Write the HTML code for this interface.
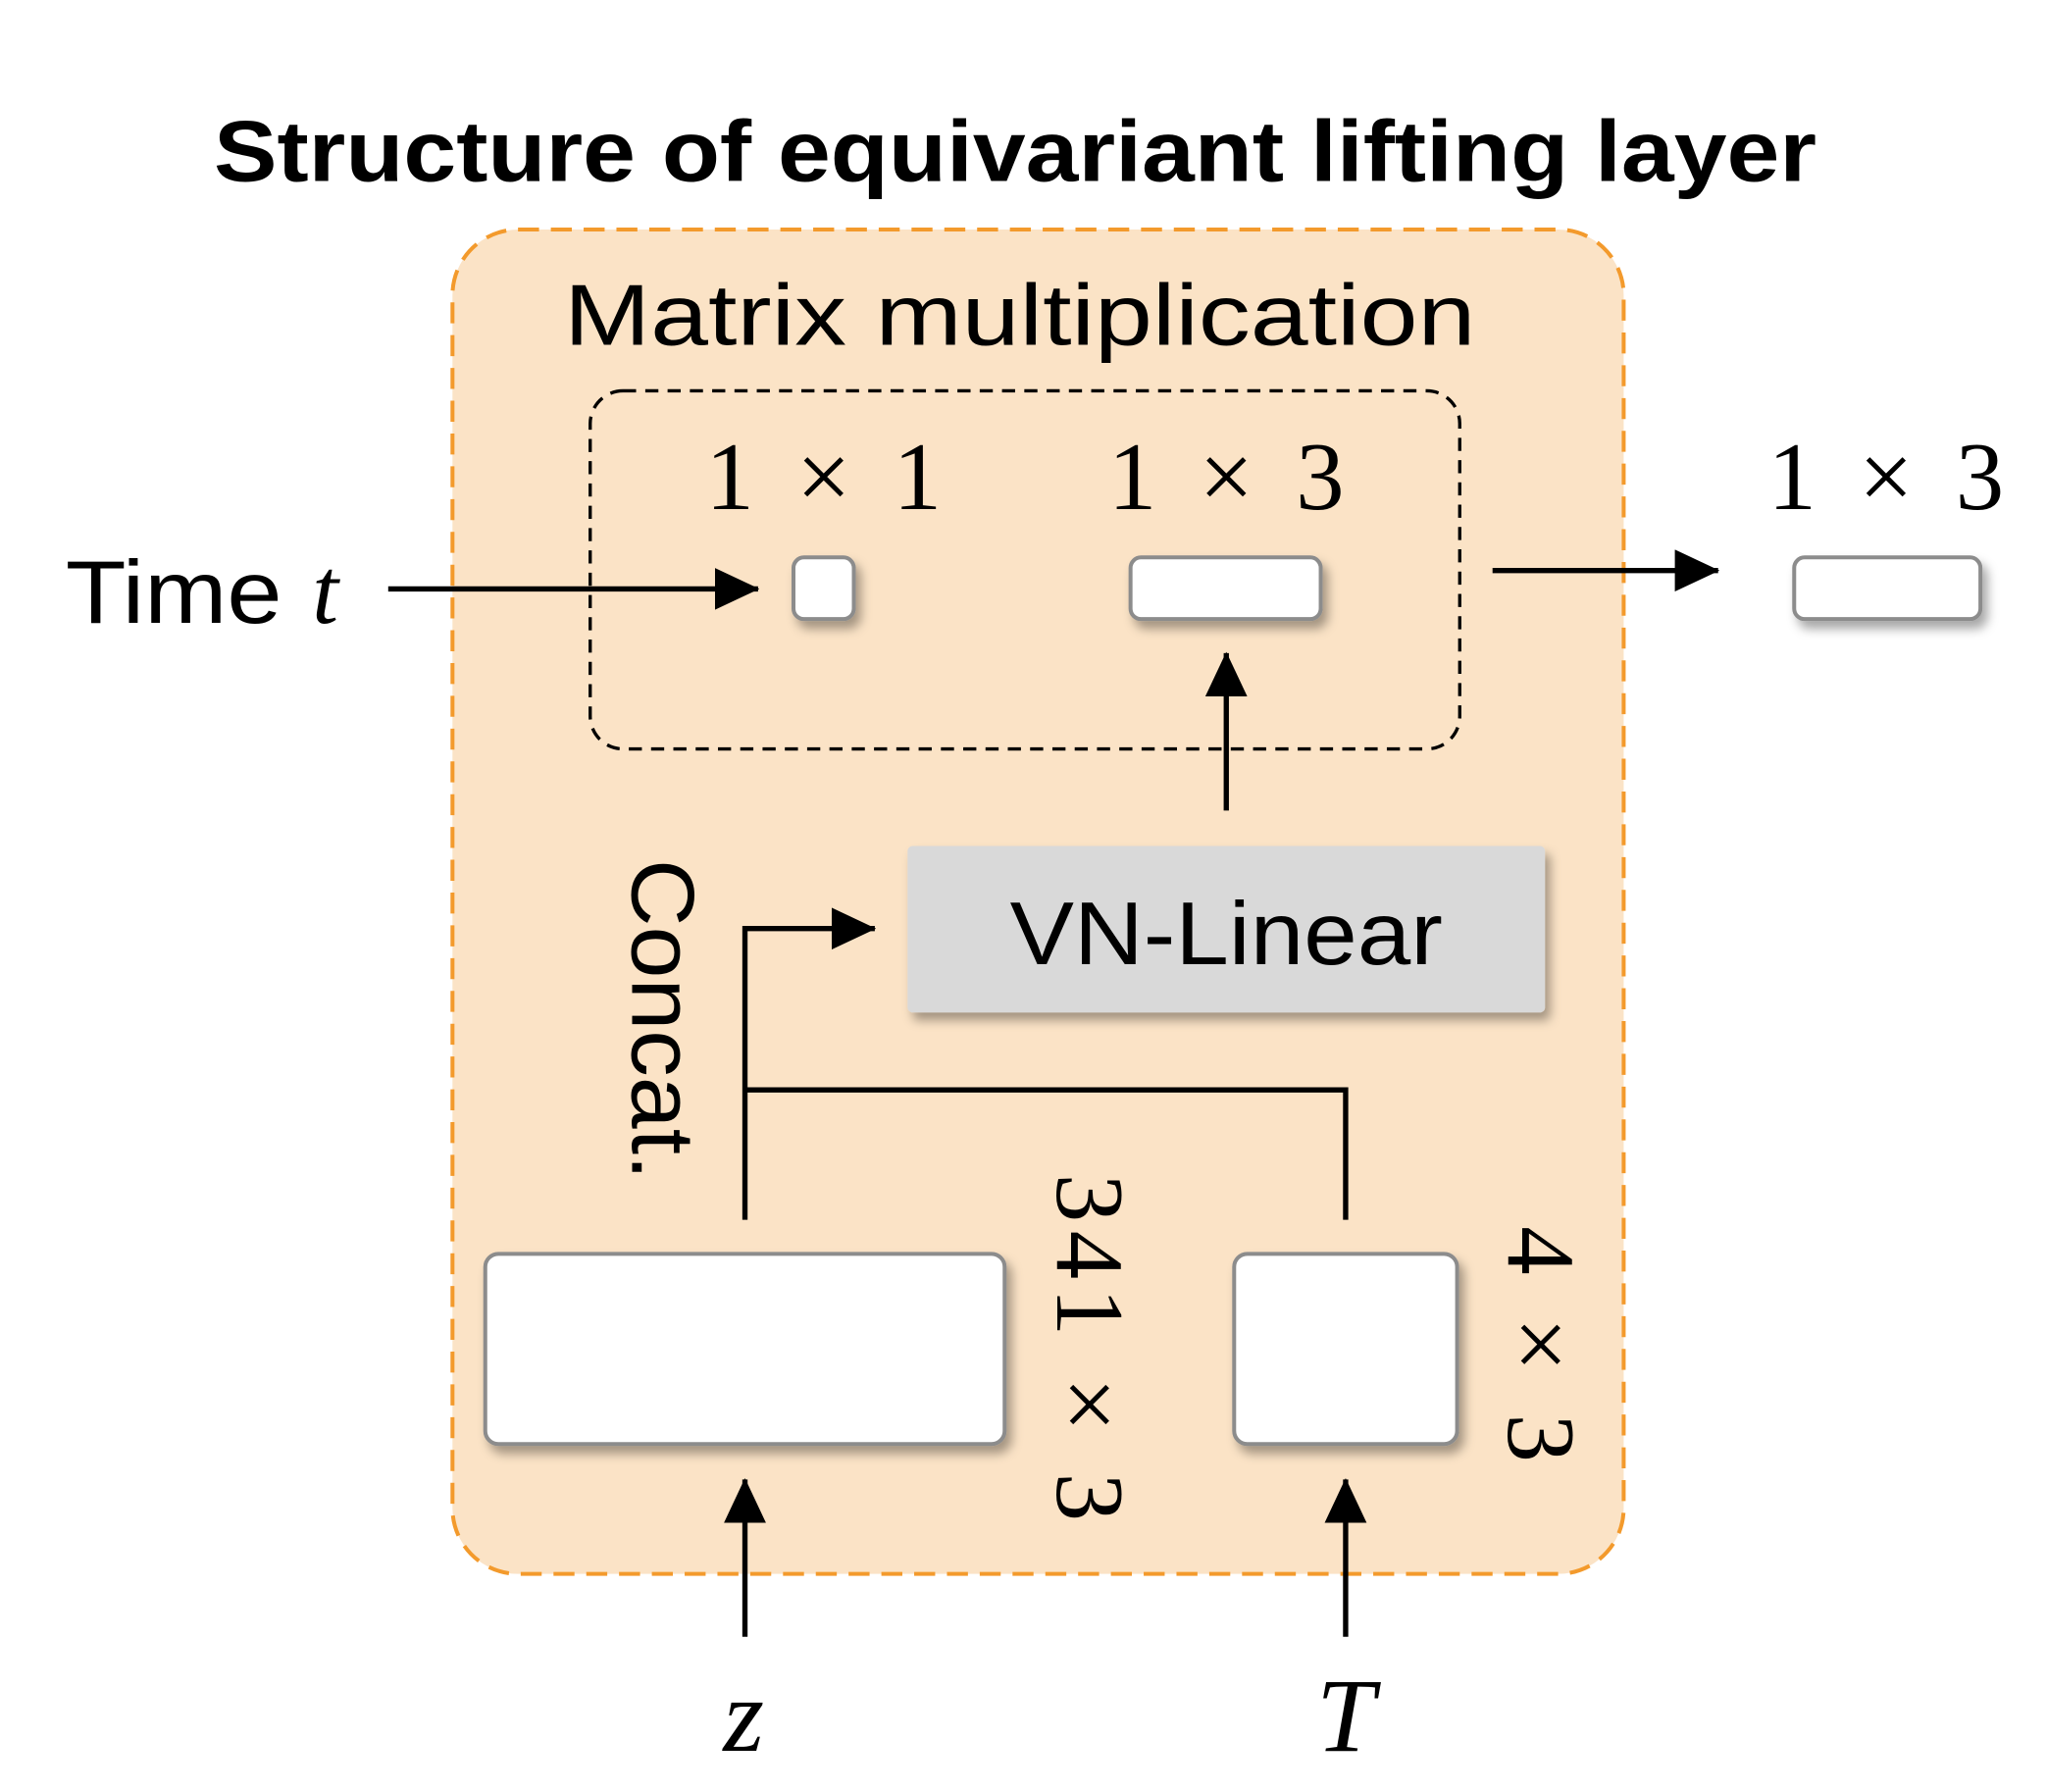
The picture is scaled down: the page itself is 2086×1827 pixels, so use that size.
<!DOCTYPE html>
<html><head><meta charset="utf-8"><style>html,body{margin:0;padding:0;background:#fff}svg{display:block}</style></head>
<body>
<svg width="2086" height="1827" viewBox="0 0 1560 1366.3" preserveAspectRatio="none" xmlns="http://www.w3.org/2000/svg">
<defs>
<filter id="sh" x="-30%" y="-30%" width="160%" height="180%"><feDropShadow dx="4" dy="6" stdDeviation="4" flood-color="#000" flood-opacity="0.35"/></filter>
<marker id="ah" markerWidth="34" markerHeight="32" refX="33" refY="16" orient="auto" markerUnits="userSpaceOnUse" viewBox="0 0 34 32"><path d="M0,0 L34,16 L0,32 z" fill="#000"/></marker>
</defs>
<text x="163" y="138" font-family="Liberation Sans, sans-serif" font-weight="bold" font-size="66" textLength="1222" lengthAdjust="spacingAndGlyphs">Structure of equivariant lifting layer</text>
<rect x="345" y="175" width="893" height="1025" rx="50" fill="#fbe3c6" stroke="#f39a2c" stroke-width="3" stroke-dasharray="16,9"/>
<text x="430" y="263" font-family="Liberation Sans, sans-serif" font-size="66" textLength="695" lengthAdjust="spacingAndGlyphs">Matrix multiplication</text>
<rect x="450" y="298" width="663" height="273" rx="25" fill="none" stroke="#000" stroke-width="2.5" stroke-dasharray="10,7"/>
<g font-family="Liberation Serif, serif" font-size="74">
<text x="538" y="388" textLength="180" lengthAdjust="spacing">1 × 1</text>
<text x="845" y="388" textLength="180" lengthAdjust="spacing">1 × 3</text>
<text x="1348" y="388" textLength="180" lengthAdjust="spacing">1 × 3</text>
</g>
<g fill="#fff" stroke="#8c8c8c" stroke-width="3" filter="url(#sh)">
<rect x="605" y="425" width="46" height="47" rx="8"/>
<rect x="862" y="425" width="145" height="47" rx="8"/>
<rect x="1368" y="425" width="142" height="47" rx="8"/>
<rect x="370" y="956" width="396" height="145" rx="10"/>
<rect x="941" y="956" width="170" height="145" rx="10"/>
</g>
<text x="50" y="475" font-family="Liberation Sans, sans-serif" font-size="68" textLength="165" lengthAdjust="spacingAndGlyphs">Time</text>
<text x="238" y="475" font-family="Liberation Serif, serif" font-style="italic" font-size="72">t</text>
<g stroke="#000" stroke-width="4" fill="none">
<line x1="296" y1="449" x2="578" y2="449" marker-end="url(#ah)"/>
<line x1="1138" y1="435" x2="1310" y2="435" marker-end="url(#ah)"/>
<line x1="935" y1="618" x2="935" y2="498" marker-end="url(#ah)"/>
<polyline points="568,930 568,708 667,708" marker-end="url(#ah)"/>
<polyline points="568,831 1026,831 1026,930"/>
<line x1="568" y1="1248" x2="568" y2="1128" marker-end="url(#ah)"/>
<line x1="1026" y1="1248" x2="1026" y2="1128" marker-end="url(#ah)"/>
</g>
<rect x="692" y="645" width="486" height="127" rx="4" fill="#d9d9d9" filter="url(#sh)"/>
<text x="770" y="735" font-family="Liberation Sans, sans-serif" font-size="68" textLength="330" lengthAdjust="spacingAndGlyphs">VN-Linear</text>
<text transform="translate(482,655) rotate(90)" font-family="Liberation Sans, sans-serif" font-size="68" textLength="245" lengthAdjust="spacingAndGlyphs">Concat.</text>
<text transform="translate(806,895) rotate(90)" font-family="Liberation Serif, serif" font-size="74" textLength="265" lengthAdjust="spacing">341 × 3</text>
<text transform="translate(1150,935) rotate(90)" font-family="Liberation Serif, serif" font-size="74" textLength="180" lengthAdjust="spacing">4 × 3</text>
<g font-family="Liberation Serif, serif" font-style="italic" font-size="80" text-anchor="middle">
<text x="567" y="1335">z</text>
<text x="1026" y="1335">T</text>
</g>
</svg>
</body></html>
